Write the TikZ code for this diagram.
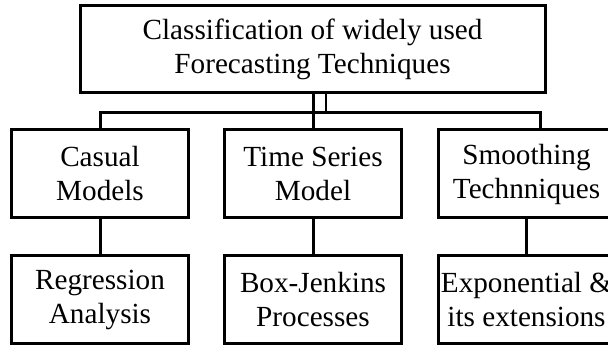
\documentclass[tikz,border=0pt]{standalone}
\usepackage{fontspec}
\setmainfont{Liberation Serif}
\usepackage{tikz}

\begin{document}
\begin{tikzpicture}[x=0.5pt,y=0.5pt]
\tikzstyle{every node}+=[inner sep=0pt]
\tikzstyle{box}=[draw=black, line width=1.5pt, minimum width=88.5pt, minimum height=44pt, align=center, font=\fontsize{14.6}{17}\selectfont]
\clip (0,0) rectangle (608,-346);
\useasboundingbox (0,0) rectangle (608,-346);
\node [box, minimum width=232.5pt, minimum height=43.5pt] (top) at (312.5,-49.5) {Classification of widely used\\Forecasting Techniques};
\node [box] (casual) at (100,-174) {Casual\\Models};
\node [box] (series) at (313,-174) {Time Series\\Model};
\node [box] (smooth) at (526.5,-174) {Smoothing\\Technniques};
\node [box] (regress) at (100,-299.5) {Regression\\Analysis};
\node [box] (boxjen) at (313,-299.5) {Box-Jenkins\\Processes};
\node [box] (expo) at (526.5,-299.5) {Exponential \&\\its extensions};
\coordinate (tap) at (326,-113);
\coordinate (busR) at (540,-113);
\draw [black, line width=1.5pt] (series.north |- top.south) -- (series.north);
\draw [black, line width=1.2pt] (tap |- top.south) -- (tap);
\draw [black, line width=1.5pt] (casual.north) |- (busR) -- (busR |- smooth.north);
\draw [black, line width=1.5pt] (casual) -- (regress);
\draw [black, line width=1.5pt] (series) -- (boxjen);
\draw [black, line width=1.5pt] (smooth) -- (expo);
\end{tikzpicture}
\end{document}
